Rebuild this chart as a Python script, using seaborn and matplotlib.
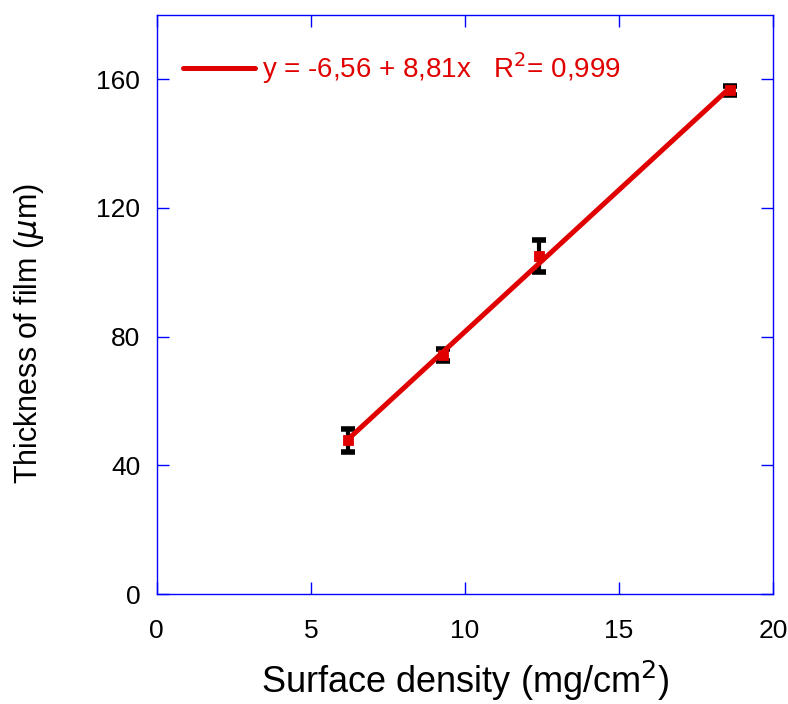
import numpy as np
import pandas as pd
import matplotlib
matplotlib.use("Agg")
import matplotlib.pyplot as plt
import seaborn as sns

# donnees
density = [6.2, 9.3, 12.4, 18.6]
thickness = [47.8, 74.3, 105.0, 156.5]
err = [3.5, 2.0, 5.0, 1.5]
intercept = -6.56
slope = 8.81

sns.set_style("ticks")
plt.rcParams['font.family'] = ['Liberation Sans', 'DejaVu Sans']
plt.rcParams['text.color'] = 'black'
plt.rcParams['axes.labelcolor'] = 'black'
plt.rcParams['xtick.color'] = 'black'
plt.rcParams['ytick.color'] = 'black'

df = pd.DataFrame({"x": density, "y": thickness, "err": err})
fit = pd.DataFrame({"x": [density[0], density[-1]]})
fit["y"] = intercept + slope * fit["x"]

fig = plt.figure(figsize=(7.88, 7.04), dpi=100)
ax = fig.add_axes([0.199, 0.156, 0.782, 0.823])

ax.errorbar(df["x"], df["y"], yerr=df["err"], fmt="none", ecolor="black",
            elinewidth=3, capsize=5, capthick=4, zorder=2)
sns.lineplot(data=fit, x="x", y="y", color="#e00000", linewidth=3.6, ax=ax,
             label="y = -6,56 + 8,81x   R$^2$= 0,999", zorder=3)
sns.scatterplot(data=df, x="x", y="y", color="#e00000", marker="s", s=55,
                edgecolor="#e00000", ax=ax, zorder=4)

ax.set_xlim(0, 20)
ax.set_ylim(0, 180)
ax.set_xticks([0, 5, 10, 15, 20])
ax.set_yticks([0, 40, 80, 120, 160])
ax.tick_params(direction="in", length=8.6, width=1, color="blue", labelsize=19,
               top=True, right=True)
ax.tick_params(axis="x", pad=18)
ax.tick_params(axis="y", pad=12)
for s in ax.spines.values():
    s.set_color("blue")
    s.set_linewidth(1)

ax.set_xlabel("Surface density (mg/cm$^2$)", fontsize=26)
ax.set_ylabel("Thickness of film ($\\mu$m)", fontsize=22)
ax.xaxis.set_label_coords(0.5, -0.112)
ax.yaxis.set_label_coords(-0.18, 0.45)

leg = ax.legend(loc="center left", frameon=False, fontsize=20, handlelength=2.6,
                handletextpad=0.26, borderpad=0, borderaxespad=0,
                bbox_to_anchor=(0.042, 0.908))
for t in leg.get_texts():
    t.set_color("#e00000")

fig.savefig("out.png", dpi=100)
